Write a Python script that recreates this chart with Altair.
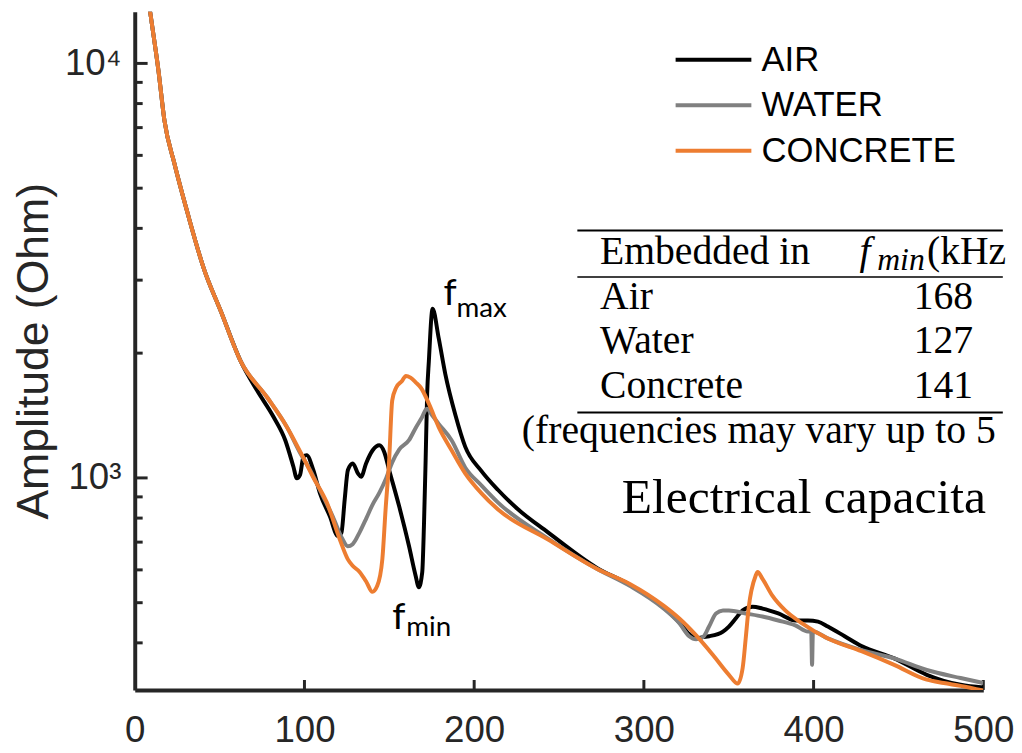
import altair as alt
import pandas as pd

# ---------------- data ----------------
series_names = ["AIR", "WATER", "CONCRETE"]
series_colors = ["#000000", "#808080", "#ED7D31"]

common_khz = [8.0, 9.3, 14.0, 17.5, 23.3, 31.5, 40.8, 50.8, 62.4]
common_ohm = [14300, 13120, 9590, 7280, 5750, 4300, 3190, 2520, 1913]

air_khz = common_khz + [72.2, 81.9, 88.7, 93.5, 95.5, 97.4, 99.4, 101.3, 105.2, 109.1,
                        114.9, 119.8, 121.8, 123.7, 125.6, 128.5, 131.5, 133.4, 136.3, 140.2,
                        144.1, 147.0, 149.9, 155.8, 161.6, 165.5, 167.4, 169.4, 170.4, 171.4,
                        172.3, 173.3, 175.5, 179.1, 183.0, 188.9, 194.7, 204.2, 214.1, 225.8,
                        243.3, 272.5, 291.7, 311.6, 320.9, 326.7, 330.8, 334.9, 338.4, 346.6,
                        350.1, 354.1, 358.2, 364.1, 369.9, 379.2, 389.2, 396.7, 402.6, 408.4,
                        418.3, 428.2, 447.5, 466.7, 476.7, 486.6, 500.0]
air_ohm = common_ohm + [1623, 1401, 1233, 1064, 998, 1017, 1124, 1135, 1045, 919,
                        809, 724, 738, 886, 1045, 1084, 1026, 1007, 1084, 1166,
                        1199, 1155, 1045, 854, 685, 581, 545, 592, 765, 1104,
                        1594, 1913, 2560, 2173, 1780, 1420, 1190, 1040, 935, 840,
                        740, 606, 552, 487, 448, 420, 410, 413, 415, 426,
                        438, 458, 479, 489, 484, 471, 453, 453, 450, 438,
                        415, 393, 367, 335, 324, 317, 312]

water_khz = common_khz + [78.2, 89.8, 97.4, 103.3, 109.1, 116.7, 122.5, 125.5, 128.4, 132.5,
                          136.5, 140.0, 144.1, 148.2, 151.7, 155.8, 161.6, 165.7, 169.2, 172.1,
                          175.0, 179.1, 186.7, 194.7, 204.2, 214.1, 243.3, 272.5, 291.7, 311.6,
                          320.9, 326.7, 330.8, 334.9, 338.4, 342.5, 346.6, 350.1, 360.0, 369.9,
                          379.2, 389.2, 396.7, 398.6, 399.1, 399.6, 408.4, 428.2, 447.5, 466.7,
                          486.6, 500.0]
water_ohm = common_ohm + [1561, 1324, 1150, 1045, 936, 807, 711, 684, 692, 739,
                          800, 860, 920, 1000, 1090, 1170, 1233, 1324, 1398, 1469,
                          1420, 1350, 1233, 1060, 960, 872, 715, 603, 549, 484,
                          446, 415, 408, 413, 438, 471, 479, 479, 471, 463,
                          453, 441, 426, 426, 354, 426, 410, 384, 367, 344,
                          329, 320]

concrete_khz = common_khz + [78.2, 89.8, 99.2, 105.0, 113.2, 120.8, 125.5, 128.4, 132.5, 136.5,
                             140.0, 142.9, 145.9, 147.8, 149.9, 151.7, 154.0, 157.5, 159.8, 162.5,
                             165.7, 168.6, 173.3, 179.1, 186.7, 194.7, 204.2, 214.1, 243.3, 272.5,
                             291.7, 311.6, 320.9, 330.8, 340.7, 350.1, 355.3, 358.2, 360.0, 361.7,
                             365.8, 367.0, 369.9, 375.7, 383.3, 393.2, 408.4, 428.2, 447.5, 466.7,
                             476.7, 486.6, 500.0]
concrete_ohm = common_ohm + [1561, 1324, 1122, 1006, 872, 711, 637, 614, 593, 561,
                             531, 549, 637, 839, 1104, 1536, 1650, 1714, 1762, 1745,
                             1698, 1650, 1511, 1326, 1166, 1026, 919, 839, 711, 603,
                             555, 492, 458, 417, 374, 335, 319, 348, 410, 484,
                             580, 593, 571, 520, 479, 446, 410, 382, 354, 326,
                             320, 315, 307]

x_tick_labels = [0, 100, 200, 300, 400, 500]
x_inner_ticks = [100, 200, 300, 400, 500]
y_major_ticks = [1000, 10000]
y_minor_ticks = [400, 500, 600, 700, 800, 900, 2000, 3000, 4000, 5000, 6000, 7000, 8000, 9000]

table_media = ["Air", "Water", "Concrete"]
table_fmin = ["168", "127", "141"]

# ---------------- styling / layout ----------------
AX = "#262626"
SANS = "Liberation Sans"
SERIF = "Liberation Serif"
ANN = "Lato"
W, H = 857, 685
CUT = "\u200b"

xscale = alt.Scale(domain=[0, 500], nice=False, zero=False)
yscale = alt.Scale(type="log", domain=[308, 13330], nice=False)

xaxis = alt.Axis(values=x_tick_labels, format="d", ticks=False, tickSize=0, labelPadding=23,
                 labelFont=SANS, labelFontSize=37, labelColor=AX, labelFlush=False,
                 domainColor=AX, domainWidth=4, grid=False)
yaxis = alt.Axis(values=y_major_ticks,
                 labelExpr="datum.value < 5000 ? '10\u00b3' : '10\u2074'",
                 ticks=False, tickSize=0, labelPadding=14, labelFont=SANS, labelFontSize=37,
                 labelColor=AX, domainColor=AX, domainWidth=4, grid=False,
                 titleFont=SANS, titleFontSize=45, titleFontWeight="normal", titleColor=AX,
                 titlePadding=8)


def X(field="x"):
    return alt.X(f"{field}:Q", scale=xscale, axis=xaxis, title=None)


def Y(field="y"):
    return alt.Y(f"{field}:Q", scale=yscale, axis=yaxis, title="Amplitude (Ohm)")


# a horizontal stroke 1.5x wider than the nominal symbol box keeps rows compact
legend = alt.Legend(title=None, orient="none", legendX=557, legendY=21, direction="vertical",
                    symbolType="M-1.5,0L1.5,0", symbolSize=2601, symbolStrokeWidth=4,
                    labelFont=SANS, labelFontSize=35, labelColor="#000000", labelLimit=400,
                    labelOffset=21, rowPadding=0, padding=0, symbolOffset=0)
color = alt.Color("series:N", scale=alt.Scale(domain=series_names, range=series_colors),
                  legend=legend)

layers = []

# inward tick marks
yminor = alt.Chart(pd.DataFrame({"y": y_minor_ticks})).mark_rule(stroke=AX, strokeWidth=3).encode(
    y=Y(), x=alt.value(0), x2=alt.value(8))
ymajor = alt.Chart(pd.DataFrame({"y": y_major_ticks})).mark_rule(stroke=AX, strokeWidth=3).encode(
    y=Y(), x=alt.value(0), x2=alt.value(13))
xt = alt.Chart(pd.DataFrame({"x": x_inner_ticks})).mark_rule(stroke=AX, strokeWidth=3).encode(
    x=X(), y=alt.value(H), y2=alt.value(H - 10))
layers += [yminor, ymajor, xt]

for name, xs, ys in [("AIR", air_khz, air_ohm), ("WATER", water_khz, water_ohm),
                     ("CONCRETE", concrete_khz, concrete_ohm)]:
    df = pd.DataFrame({"x": xs, "y": ys, "series": name})
    layers.append(alt.Chart(df).mark_line(strokeWidth=4, clip=True, interpolate="monotone").encode(
        x=X(), y=Y(), color=color))


def txt(items, **kw):
    df = pd.DataFrame(items, columns=["x", "y", "t"])
    return alt.Chart(df).mark_text(align=kw.pop("align", "left"), baseline="alphabetic", **kw).encode(
        x=X(), y=Y(), text="t:N")


# f_max / f_min annotations
layers.append(txt([(182.0, 2618, "f"), (151.7, 433, "f")], font=ANN, fontSize=38, color="#000000"))
layers.append(txt([(189.6, 2451, "max"), (160.0, 415, "min")], font=ANN, fontSize=28, color="#000000"))

# table
rules = pd.DataFrame({"x": [260.8, 260.8, 260.8], "x2": [511.5, 511.5, 511.5],
                      "y": [3955, 3053, 1438], "w": [2.0, 1.3, 2.0]})
layers.append(alt.Chart(rules).mark_rule(color="#000000").encode(
    x=X(), x2="x2:Q", y=Y(), strokeWidth=alt.StrokeWidth("w:Q", scale=None)))

row_ohm = [2561, 2000, 1561]
layers.append(txt([(274.2, 3281, "Embedded in")] + [(274.2, o, m) for o, m in zip(row_ohm, table_media)],
                  font=SERIF, fontSize=40, color="#000000"))
layers.append(txt([(476.5, o, v) for o, v in zip(row_ohm, table_fmin)], align="center",
                  font=SERIF, fontSize=40, color="#000000"))
layers.append(txt([(427.1, 3281, "f")], font=SERIF, fontSize=40, fontStyle="italic", color="#000000"))
layers.append(txt([(437.5, 3175, "min")], font=SERIF, fontSize=32, fontStyle="italic", color="#000000"))
layers.append(txt([(466.8, 3281, "(kHz)")], font=SERIF, fontSize=40, color="#000000",
                  limit=80, ellipsis=CUT))
layers.append(txt([(228.1, 1212, "(frequencies may vary up to 5%)")], font=SERIF, fontSize=40,
                  color="#000000", limit=486, ellipsis=CUT))
layers.append(txt([(287.0, 825, "Electrical capacitance")], font=SERIF, fontSize=50,
                  color="#000000", limit=386, ellipsis=CUT))

chart = alt.layer(*layers).properties(
    width=W, height=H, padding={"left": 3, "top": 0, "right": 0, "bottom": 0},
    background="#ffffff"
).configure_view(strokeWidth=0)

chart.save("out.html", embed_options={"renderer": "svg", "actions": False})
